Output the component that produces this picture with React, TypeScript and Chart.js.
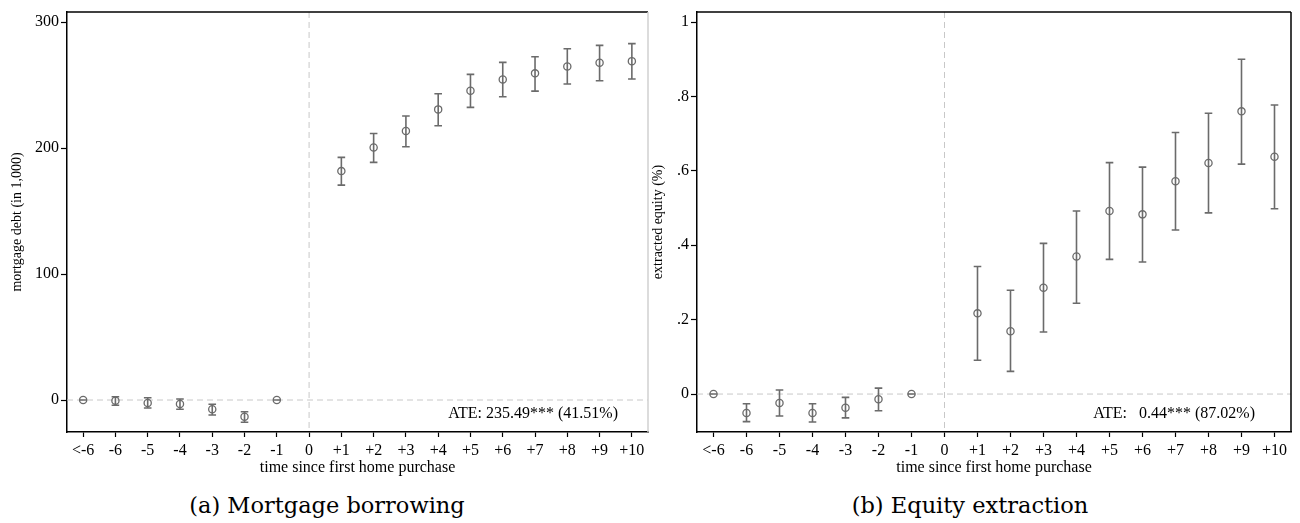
import React, { useEffect, useRef } from "react";
import { Chart, registerables } from "chart.js";

Chart.register(...registerables);

const xLabels = ["<-6", "-6", "-5", "-4", "-3", "-2", "-1", "0", "+1", "+2", "+3", "+4", "+5", "+6", "+7", "+8", "+9", "+10"];

const debtEst = [0, -0.5, -2.4, -3.2, -7.4, -13.2, 0, null, 181.7, 200.5, 213.5, 230.7, 245.5, 254.5, 259.3, 264.8, 267.7, 269];
const debtLo = [0, -4.2, -6.3, -7.4, -11.9, -17.7, 0, null, 170.6, 188.6, 201, 217.7, 232.3, 240.7, 245.2, 250.8, 253.4, 254.8];
const debtHi = [0, 2.6, 1.8, 0.8, -3.4, -9.3, 0, null, 192.6, 211.6, 225.4, 243.1, 258.5, 268, 272.5, 278.8, 281.5, 282.9];
const debtTicks = [0, 100, 200, 300];
const debtTickLabels = ["0", "100", "200", "300"];

const eqEst = [0, -0.051, -0.024, -0.051, -0.037, -0.014, 0, null, 0.217, 0.169, 0.286, 0.37, 0.492, 0.483, 0.572, 0.621, 0.76, 0.638];
const eqLo = [0, -0.074, -0.059, -0.075, -0.064, -0.045, 0, null, 0.091, 0.061, 0.167, 0.244, 0.362, 0.355, 0.441, 0.487, 0.618, 0.498];
const eqHi = [0, -0.026, 0.011, -0.026, -0.009, 0.016, 0, null, 0.343, 0.279, 0.405, 0.492, 0.622, 0.61, 0.703, 0.755, 0.9, 0.777];
const eqTicks = [0, 0.2, 0.4, 0.6, 0.8, 1];
const eqTickLabels = ["0", ".2", ".4", ".6", ".8", "1"];

const SERIF = "'Liberation Serif', 'Times New Roman', serif";
const MARK = "#6b6b6b";
const REF = "#c8c8c8";

type PanelProps = {
  est: (number | null)[];
  lo: (number | null)[];
  hi: (number | null)[];
  yMin: number;
  yMax: number;
  yTicks: number[];
  yTickLabels: string[];
  yTitle: string;
  yWidth: number;
  yTitlePad: number;
  padRight: number;
  rightBorder: string;
  ate: string;
  ateRight: number;
};

function Panel(p: PanelProps) {
  const ref = useRef<HTMLCanvasElement>(null);
  useEffect(() => {
    const canvas = ref.current;
    if (!canvas) return;
    const points = p.est
      .map((v, i) => (v === null ? null : { x: i, y: v }))
      .filter((d) => d !== null);

    const refPlugin = {
      id: "refAndBars",
      beforeDatasetsDraw(chart: any) {
        const { ctx, chartArea, scales } = chart;
        const xs = scales.x;
        const ys = scales.y;
        ctx.save();
        ctx.strokeStyle = REF;
        ctx.lineWidth = 1;
        ctx.setLineDash([6, 4]);
        const y0 = ys.getPixelForValue(0);
        ctx.beginPath();
        ctx.moveTo(chartArea.left, y0);
        ctx.lineTo(chartArea.right, y0);
        ctx.stroke();
        const x0 = xs.getPixelForValue(xLabels.indexOf("0"));
        ctx.beginPath();
        ctx.moveTo(x0, chartArea.top);
        ctx.lineTo(x0, chartArea.bottom);
        ctx.stroke();
        ctx.setLineDash([]);
        ctx.strokeStyle = MARK;
        ctx.lineWidth = 1.6;
        for (let i = 0; i < p.est.length; i++) {
          const l = p.lo[i];
          const h = p.hi[i];
          if (l === null || h === null) continue;
          const x = xs.getPixelForValue(i);
          const yl = ys.getPixelForValue(l);
          const yh = ys.getPixelForValue(h);
          ctx.beginPath();
          ctx.moveTo(x, yl);
          ctx.lineTo(x, yh);
          ctx.moveTo(x - 3.8, yl);
          ctx.lineTo(x + 3.8, yl);
          ctx.moveTo(x - 3.8, yh);
          ctx.lineTo(x + 3.8, yh);
          ctx.stroke();
        }
        ctx.restore();
      },
      afterDraw(chart: any) {
        const { ctx, chartArea } = chart;
        ctx.save();
        ctx.lineWidth = 1.5;
        ctx.strokeStyle = "#000";
        ctx.beginPath();
        ctx.moveTo(chartArea.left - 0.75, chartArea.top);
        ctx.lineTo(chartArea.right, chartArea.top);
        ctx.stroke();
        ctx.strokeStyle = p.rightBorder;
        ctx.beginPath();
        ctx.moveTo(chartArea.right, chartArea.top);
        ctx.lineTo(chartArea.right, chartArea.bottom);
        ctx.stroke();
        ctx.fillStyle = "#000";
        ctx.font = `16px ${SERIF}`;
        ctx.textAlign = "right";
        ctx.textBaseline = "middle";
        ctx.fillText(p.ate, chartArea.right - p.ateRight, chartArea.bottom - 18);
        ctx.restore();
      },
    };

    const chart = new Chart(canvas, {
      type: "scatter",
      data: {
        datasets: [
          {
            data: points as any,
            pointStyle: "circle",
            pointRadius: 3.6,
            pointHoverRadius: 3.6,
            pointBorderWidth: 1.3,
            pointBorderColor: MARK,
            pointBackgroundColor: "rgba(0,0,0,0)",
            showLine: false,
          },
        ],
      },
      options: {
        animation: false,
        responsive: false,
        maintainAspectRatio: false,
        events: [],
        layout: { padding: { top: 12, right: p.padRight, left: 0, bottom: 0 } },
        plugins: { legend: { display: false }, tooltip: { enabled: false } },
        scales: {
          x: {
            type: "linear",
            min: -0.5,
            max: 17.5,
            afterBuildTicks: (s: any) => {
              s.ticks = xLabels.map((_, i) => ({ value: i }));
            },
            afterFit: (s: any) => {
              s.height = 48;
            },
            ticks: {
              autoSkip: false,
              maxRotation: 0,
              padding: 4,
              color: "#000",
              font: { family: SERIF, size: 16 },
              callback: (_v: any, i: number) => xLabels[i] ?? "",
            },
            grid: { drawOnChartArea: false, drawTicks: true, tickLength: 5, tickColor: "#000", tickWidth: 1.2 },
            border: { display: true, color: "#000", width: 1.5 },
            title: {
              display: true,
              text: "time since first home purchase",
              color: "#000",
              font: { family: SERIF, size: 16 },
              padding: { top: 0, bottom: 3 },
            },
          },
          y: {
            type: "linear",
            min: p.yMin,
            max: p.yMax,
            afterBuildTicks: (s: any) => {
              s.ticks = p.yTicks.map((v) => ({ value: v }));
            },
            afterFit: (s: any) => {
              s.width = p.yWidth;
            },
            ticks: {
              padding: 2,
              color: "#000",
              font: { family: SERIF, size: 16 },
              callback: (_v: any, i: number) => p.yTickLabels[i] ?? "",
            },
            grid: { drawOnChartArea: false, drawTicks: true, tickLength: 6, tickColor: "#000", tickWidth: 1.2 },
            border: { display: true, color: "#000", width: 1.5 },
            title: {
              display: true,
              text: p.yTitle,
              color: "#000",
              font: { family: SERIF, size: 14 },
              padding: { top: p.yTitlePad, bottom: 0 },
            },
          },
        },
      },
      plugins: [refPlugin],
    });
    return () => chart.destroy();
  }, []);
  return <canvas ref={ref} width={655} height={480} style={{ width: 655, height: 480, display: "block" }} />;
}

const captionStyle: React.CSSProperties = {
  position: "absolute",
  top: 491,
  fontFamily: "'DejaVu Serif', serif",
  fontSize: 22.5,
  lineHeight: "28px",
  color: "#000",
  whiteSpace: "nowrap",
  transform: "translateX(-50%)",
};

export default function App() {
  return (
    <div style={{ position: "absolute", left: 0, top: 0, width: 1300, height: 523, background: "#fff", overflow: "hidden" }}>
      <div style={{ position: "absolute", left: 0, top: 0 }}>
        <Panel
          est={debtEst}
          lo={debtLo}
          hi={debtHi}
          yMin={-25.4}
          yMax={308}
          yTicks={debtTicks}
          yTickLabels={debtTickLabels}
          yTitle="mortgage debt (in 1,000)"
          yWidth={67}
          yTitlePad={8.6}
          padRight={7}
          rightBorder="#d0d0d0"
          ate="ATE: 235.49*** (41.51%)"
          ateRight={30}
        />
      </div>
      <div style={{ position: "absolute", left: 645, top: 0 }}>
        <Panel
          est={eqEst}
          lo={eqLo}
          hi={eqHi}
          yMin={-0.102}
          yMax={1.027}
          yTicks={eqTicks}
          yTickLabels={eqTickLabels}
          yTitle="extracted equity (%)"
          yWidth={52}
          yTitlePad={4.6}
          padRight={9}
          rightBorder="#000"
          ate="ATE:   0.44*** (87.02%)"
          ateRight={36}
        />
      </div>
      <div style={{ ...captionStyle, left: 327 }}>(a) Mortgage borrowing</div>
      <div style={{ ...captionStyle, left: 970 }}>(b) Equity extraction</div>
    </div>
  );
}
